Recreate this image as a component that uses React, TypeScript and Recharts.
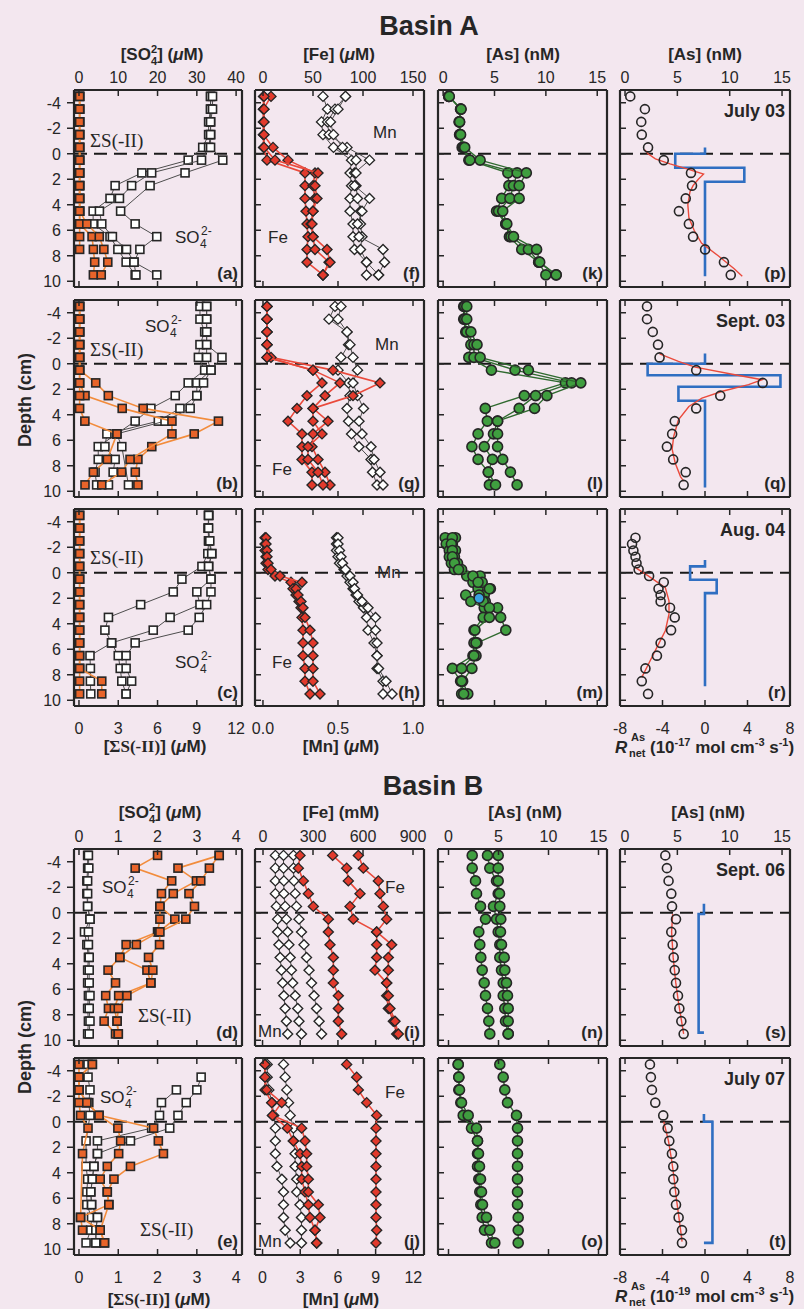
import React from 'react';
import { ScatterChart, Scatter, XAxis, YAxis, ReferenceLine } from 'recharts';

const FONT = '"Liberation Sans", Arial, Helvetica, sans-serif';
const SERIF = '"Liberation Serif", "DejaVu Serif", "Times New Roman", serif';
const BG = '#f3e7ef';
const FRAME = '#262626';
const TXT = '#262626';
const ORANGE_FILL = '#e8642a';
const ORANGE_LINE = '#f28c3c';
const RED_FILL = '#e23a2c';
const RED_LINE = '#ea4a3c';
const GREEN_FILL = '#3f9e3f';
const GREEN_LINE = '#2f6a2f';
const BLUE = '#2f6fc2';
const SKY = '#3aa3e3';
const GRAY_LINE = '#4d4d4d';

type V = number | null;

// ---------------- depth grids & tick values ----------------
const DEPTH: number[] = [-4.5, -3.5, -2.5, -1.5, -0.5, 0.5, 1.5, 2.5, 3.5, 4.5, 5.5, 6.5, 7.5, 8.5, 9.5];
const DEPTH_AUG04: number[] = [-2.75, -2.25, -1.75, -1.25, -0.75, -0.25, 0.25, 0.75, 1.25, 1.75, 2.25, 2.75, 3.5, 4.5, 5.5, 6.5, 7.5, 8.5, 9.5];
const DEPTH_TICKS = [-4, -2, 0, 2, 4, 6, 8, 10];
const TICKS_SO4_A = [0, 10, 20, 30, 40];
const TICKS_HS_A = [0, 3, 6, 9, 12];
const TICKS_FE_A = [0, 50, 100, 150];
const TICKS_MN_A = [0, 0.5, 1];
const TICKS_AS = [0, 5, 10, 15];
const TICKS_R = [-8, -4, 0, 4, 8];
const TICKS_S_B = [0, 1, 2, 3, 4];
const TICKS_FE_B = [0, 300, 600, 900];
const TICKS_MN_B = [0, 3, 6, 9, 12];

// ---------------- Basin A, July 03 ----------------
const SO4_A1: V[] = [33.5, 33.5, 33, 33, 31.5, 27.8, 16.0, 9.2, 7.9, 3.6, 3.6, 7.9, 9.9, 12.0, 14.3];
const SO4_A2: V[] = [33.5, 33.5, 33.5, 33.5, 33, 31.2, 18.5, 13.4, 10.3, 5.2, 5.8, 8.5, 12.1, 14.0, 14.5];
const SO4_A3: V[] = [34, 34, 33.5, 33.5, 33.5, 36.6, 27.0, 18.1, null, 10.6, 14.3, 19.8, 15.5, 14.0, 19.8];
const HS_A1: V[] = [0.05, 0.05, 0.05, 0.05, 0.05, 0.05, 0.05, 0.05, 0.05, 0.05, 0.05, 0.05, 0.05, null, null];
const HS_A2: V[] = [0.05, 0.05, 0.05, 0.05, 0.05, 0.05, 0.05, 0.05, 0.05, 0.05, 0.05, 1.0, 1.1, 1.2, 1.1];
const HS_A3: V[] = [0.05, 0.05, 0.05, 0.05, 0.05, 0.05, 0.05, 0.05, 0.05, 0.05, 0.6, 1.55, 1.9, 2.2, 1.7];
const FE_F1: V[] = [0.5, 0.5, 0.5, 0.5, 0.5, 4, 42, 42, 42, 43, 44, 45, 44, 44, 60];
const FE_F2: V[] = [8, 0.5, 0.5, 0.5, 10, 25, 52, 50, 52, 50, 48, 50, 52, 66, 60];
const FE_F3: V[] = [1, 1, 1, 1, 1, 12, 55, 52, 54, 50, 49, 50, 64, 67, 60];
const MN_F1: V[] = [0.40, 0.43, 0.39, 0.40, 0.47, 0.59, 0.58, 0.59, 0.58, 0.58, 0.60, 0.60, 0.61, 0.69, 0.69];
const MN_F2: V[] = [0.55, 0.48, 0.43, 0.44, 0.56, 0.71, 0.61, 0.62, 0.63, 0.65, 0.65, 0.66, 0.65, 0.69, 0.77];
const MN_F3: V[] = [0.55, 0.50, 0.45, 0.47, 0.53, 0.62, 0.62, 0.61, 0.71, 0.66, 0.63, 0.64, 0.80, 0.81, 0.77];
const AS_K1: V[] = [0.55, 1.7, 1.55, 1.6, 1.85, 2.5, 6.3, 6.4, 5.7, 5.2, 6.1, 6.45, 7.65, 9.3, 10.0];
const AS_K2: V[] = [0.55, 1.7, 1.6, 1.65, 2.0, 2.6, 7.2, 6.85, 6.5, 5.4, 6.1, 6.6, 8.3, 9.3, 11.0];
const AS_K3: V[] = [0.6, 1.75, 1.6, 1.7, 2.1, 3.6, 8.1, 7.4, 7.4, 5.8, 6.2, 6.85, 9.1, 9.4, 11.0];
const AS_P: V[] = [0.5, 1.9, 1.55, 1.6, 2.2, 3.7, 6.3, 6.4, 5.8, 5.15, 6.1, 6.5, 7.65, 9.45, 10.1];
const FIT_P_D = [-0.3, 0, 0.4, 0.8, 1.2, 1.6, 2.0, 2.5, 3, 4, 5, 6, 7, 8, 9, 9.6];
const FIT_P_V: V[] = [1.9, 2.2, 2.9, 4.3, 6.0, 7.5, 7.0, 6.5, 6.2, 6.0, 6.1, 6.6, 7.3, 8.9, 10.4, 11.2];
const STEP_P_D = [-0.5, 0, 0, 1.1, 1.1, 2.2, 2.2, 9.6];
const STEP_P_R: V[] = [0, 0, -2.8, -2.8, 3.7, 3.7, 0, 0];

// ---------------- Basin A, Sept. 03 ----------------
const SO4_B1: V[] = [30.8, 30.8, 32, 30.8, 30.4, 32, 27.8, 24.5, 18.3, 14.3, 9.6, 4.9, 4.9, 4.1, 4.5];
const SO4_B2: V[] = [32.5, 32.5, 32.5, 32.5, 32.5, 33.6, 30, 30, 25.7, 20.2, 7.1, 6.6, 9.2, 8.7, 7.5];
const SO4_B3: V[] = [32.5, 32.5, 32.5, 32.5, 36.4, 33.6, 31.7, 30, 28.3, 21.9, 9.6, 10.9, null, null, 12.6];
const HS_B1: V[] = [0.05, 0.05, 0.05, 0.05, 0.05, 0.05, 1.28, 2.24, 4.9, 10.65, 8.8, 5.56, 4.5, 4.3, 4.5];
const HS_B2: V[] = [0.05, 0.05, 0.05, 0.05, 0.05, 0.05, 0.05, 0.46, 3.3, 7.1, 7.1, null, 3.9, 3.26, 1.74];
const HS_B3: V[] = [0.05, 0.05, 0.05, 0.05, 0.05, 0.05, 0.05, 0.05, 0.05, 0.45, 2.9, null, 2.17, 1.1, 0.46];
const FE_G1: V[] = [4, 4, 4, 4, 4, 50, 59, 44, 34, 25, 39, 39, 39, 49, 49];
const FE_G2: V[] = [4, 4, 4, 4, 8, 70, 117, 90, 50, 65, 50, 49, 55, 62, 67];
const FE_G3: V[] = [4, 4, 4, 4, 4, 50, 77, 62, 50, 50, 59, 45, 45, 55, 60];
const MN_G1: V[] = [0.48, 0.44, 0.56, 0.57, 0.52, 0.50, 0.57, 0.58, 0.56, 0.57, 0.59, 0.64, 0.72, 0.73, 0.76];
const MN_G2: V[] = [0.52, 0.50, 0.56, 0.58, 0.60, 0.63, 0.60, 0.63, 0.67, 0.64, 0.66, 0.72, 0.74, 0.78, 0.80];
const AS_L1: V[] = [2.0, 2.0, 2.2, 2.7, 2.5, 4.7, 11.9, 7.9, 4.1, 4.3, 3.4, 2.8, 3.4, 4.4, 4.5];
const AS_L2: V[] = [2.1, 2.1, 2.3, 3.0, 3.0, 7.0, 12.5, 9.0, 7.4, 5.3, 4.9, 4.0, 4.8, 4.4, 5.1];
const AS_L3: V[] = [2.3, 2.3, 2.7, 3.3, 3.6, 8.3, 13.4, 10.1, 8.9, 5.3, 5.3, 5.3, 5.8, 6.55, 7.2];
const AS_Q: V[] = [2.1, 2.1, 2.65, 3.15, 3.3, 6.8, 13.15, 9.1, 6.8, 4.75, 4.5, 4.0, 4.6, 5.8, 5.6];
const FIT_Q_D = [-0.78, -0.18, 0.26, 0.86, 1.25, 1.64, 2.16, 2.7, 3.35, 4.4, 5.7, 6.7, 7.8, 8.85, 9.2];
const FIT_Q_V: V[] = [3.3, 5.1, 6.7, 10.5, 13.1, 11.8, 9.3, 7.35, 6.1, 5.1, 4.65, 4.5, 4.8, 5.3, 5.6];
const STEP_Q_D = [-0.8, 0, 0, 0.9, 0.9, 1.8, 1.8, 2.9, 2.9, 9.7];
const STEP_Q_R: V[] = [0, 0, -5.4, -5.4, 7.1, 7.1, -2.5, -2.5, 0, 0];

// ---------------- Basin A, Aug. 04 ----------------
const SO4_C1: V[] = [33, 32.9, 33, 32.8, 31.3, 26.2, 24, 15.7, 7.5, 6.6, 8.3, 2.8, 2.9, 2.9, 3.0];
const SO4_C2: V[] = [33, 32.9, 33, 33.8, 33, 33.6, 30, 30.8, 23.2, 18.9, 8.3, 10.0, 10.5, 10.9, 12.0];
const SO4_C3: V[] = [33, 33, 33.3, 33.8, 33, 33.6, 33.6, 32.5, 30.6, 27.8, 14.3, 12.0, 12.0, 13.4, 12.0];
const HS_C1: V[] = [0.05, 0.05, 0.05, 0.05, 0.05, 0.05, 0.05, 0.05, 0.05, 0.05, 0.05, 0.05, 0.05, 0.05, 0.05];
const HS_C2: V[] = [0.05, 0.05, 0.05, 0.05, 0.05, 0.05, 0.05, 0.05, 0.05, 0.05, 0.05, 0.05, 0.05, 1.74, 1.74];
const FE_H1: V[] = [2, 2, 2, 3, 3, 5, 12, 28, 30, 33, 36, 38, 39, 40, 40, 40, 42, 42, 47];
const FE_H2: V[] = [3, 3, 4, 4, 5, 8, 17, 39, 33, 35, 38, 40, 42, 47, 50, 50, 50, 50, 57];
const MN_H1: V[] = [0.49, 0.49, 0.49, 0.50, 0.51, 0.54, 0.56, 0.58, 0.60, 0.62, 0.64, 0.67, 0.69, 0.70, 0.74, 0.76, 0.76, 0.80, 0.80];
const MN_H2: V[] = [0.50, 0.50, 0.51, 0.52, 0.53, 0.55, 0.58, 0.60, 0.61, 0.63, 0.66, 0.70, 0.75, 0.75, 0.76, 0.76, 0.77, 0.82, 0.86];
const AS_M1: V[] = [0.2, 0.3, 0.6, 0.6, 0.8, 1.1, 2.3, 2.9, 3.4, 2.2, 2.7, 4.0, 3.9, 3.0, 3.0, 2.9, 0.9, 1.7, 1.8];
const AS_M2: V[] = [1.2, 0.9, 1.2, 1.1, 1.4, 1.8, 3.6, 3.8, 4.6, 4.0, 4.1, 5.3, 5.6, 6.1, 3.3, 3.2, 2.8, 1.9, 2.4];
const AS_M3: V[] = [0.9, 0.8, 0.9, 0.9, 1.1, 1.5, 2.9, 3.4, 4.5, 3.5, 3.9, 4.5, 4.5, 3.1, 3.2, 3.0, 1.8, 1.8, 2.0];
const AS_M_SKY_D = [2.0];
const AS_M_SKY_V: V[] = [3.5];
const AS_R: V[] = [1.0, 0.67, 0.8, 1.0, 1.1, 1.3, 2.3, 3.7, 3.2, 3.4, 3.4, 4.3, 4.75, 4.4, 3.4, 3.05, 1.95, 1.6, 2.2];
const FIT_R_D = [-0.4, 0.26, 1.17, 2.2, 3.25, 4.55, 5.6, 6.9, 8.2];
const FIT_R_V: V[] = [1.0, 2.25, 3.85, 4.2, 4.2, 3.85, 3.2, 2.4, 1.6];
const STEP_R_D = [-1.0, -0.5, -0.5, 0.55, 0.55, 1.6, 1.6, 8.9];
const STEP_R_R: V[] = [0, 0, -1.4, -1.4, 1.1, 1.1, 0, 0];

// ---------------- Basin B, Sept. 06 ----------------
const OPEN_D1: V[] = [0.22, 0.22, 0.2, 0.2, 0.22, 0.28, 0.14, 0.2, 0.24, 0.22, 0.22, 0.24, 0.22, 0.24, 0.22];
const OPEN_D2: V[] = [0.24, 0.25, 0.22, 0.22, 0.22, 0.28, 0.24, 0.24, 0.26, 0.26, 0.26, 0.28, 0.26, 0.28, 0.26];
const OR_D1: V[] = [2.0, 1.43, 2.36, 2.1, 2.06, 2.06, 2.0, 1.2, 1.04, 0.74, 0.93, 0.68, 0.75, 0.64, 0.93];
const OR_D2: V[] = [3.57, 2.52, 2.99, 2.4, 2.06, 2.44, 2.03, 1.46, 1.04, 1.73, 1.83, 1.01, 0.9, 0.97, 1.0];
const OR_D3: V[] = [3.57, 3.32, 3.1, 2.8, 2.94, 2.72, 2.06, 2.05, 1.77, 1.88, 1.83, 1.22, 1.0, 0.97, 1.0];
const FE_I1: V[] = [222, 212, 242, 272, 302, 392, 392, 402, 422, 422, 422, 452, 452, 452, 472];
const FE_I2: V[] = [418, 502, 512, 582, 522, 542, 682, 682, 682, 672, 742, 742, 752, 782, 802];
const FE_I3: V[] = [572, 602, 692, 702, 722, 742, 682, 772, 752, 752, 742, 752, 762, 792, 812];
const MN_I1: V[] = [1.02, 1.02, 1.02, 1.02, 1.1, 1.2, 1.2, 1.3, 1.4, 1.5, 1.6, 1.7, 1.8, 1.9, 2.0];
const MN_I2: V[] = [1.67, 1.67, 1.7, 1.7, 1.8, 1.9, 2.0, 2.1, 2.2, 2.3, 2.4, 2.6, 2.8, 2.9, 3.1];
const MN_I3: V[] = [2.46, 2.46, 2.5, 2.6, 2.7, 2.9, 3.1, 3.3, 3.5, 3.7, 3.9, 4.1, 4.3, 4.5, 4.7];
const AS_N1: V[] = [2.37, 2.37, 2.7, 2.8, 3.2, 3.7, 3.03, 3.13, 3.23, 3.37, 3.57, 3.7, 3.9, 4.03, 4.13];
const AS_N2: V[] = [3.9, 4.13, 4.8, 4.97, 4.5, 4.8, 4.97, 5.13, 5.13, 5.3, 5.47, 5.47, 5.63, 5.7, 5.97];
const AS_N3: V[] = [4.97, 4.97, 4.97, 5.1, 5.13, 5.23, 5.2, 5.3, 5.57, 5.63, 5.8, 5.9, 5.97, 5.97, 5.97];
const AS_S: V[] = [3.85, 4.0, 4.16, 4.42, 4.49, 4.87, 4.42, 4.55, 4.65, 4.75, 4.87, 5.06, 5.19, 5.38, 5.6];
const FIT_S_D = [0.1, 1.5, 3.5, 5.5, 7.0, 8.5, 9.5];
const FIT_S_V: V[] = [4.55, 4.45, 4.6, 4.85, 5.1, 5.4, 5.6];
const STEP_S_D = [-0.7, 0.1, 0.1, 9.4, 9.4];
const STEP_S_R: V[] = [-0.1, -0.1, -0.6, -0.6, -0.1];

// ---------------- Basin B, July 07 ----------------
const OPEN_E1: V[] = [0.23, 0.23, 0.28, 0.25, 0.28, null, 0.18, null, 0.18, 0.22, 0.2, 0.2, 0.32, 0.30, 0.18];
const OPEN_E2: V[] = [null, 3.11, 3.0, 2.73, 2.52, 2.31, 1.31, 0.47, 0.38, 0.34, 0.30, 0.32, 0.47, 0.43, 0.43];
const OPEN_E3: V[] = [null, null, 2.48, 2.1, 2.05, 1.85, 0.47, 0.47, 0.38, 0.34, 0.3, 0.32, 0.47, 0.43, 0.43];
const OR_E1: V[] = [0.0, 0.0, 0.0, 0.0, 0.04, 0.23, null, 0.09, null, null, null, null, 0.04, 0.09, null];
const OR_E2: V[] = [0.34, 0.0, 0.0, 0.2, 0.51, 0.99, 1.06, 1.01, 0.72, 0.54, 0.72, 0.76, 0.04, 0.54, 0.65];
const OR_E3: V[] = [0.34, 0.0, 0.0, 0.2, 0.51, 1.9, 2.02, 2.15, 1.31, 0.89, 0.72, 0.76, null, 0.54, 0.65];
const FE_J1: V[] = [12, 12, 12, 52, 57, 146, 182, 222, 232, 232, 252, 272, 282, 312, 322];
const FE_J2: V[] = [12, 12, 22, 112, 57, 232, 252, 262, 262, 272, 272, 332, 342, 312, 322];
const FE_J3: V[] = [502, 562, 572, 622, 682, 678, 678, 678, 678, 678, 678, 678, 678, 682, 678];
const MN_J1: V[] = [0.37, 0.37, 0.5, 0.76, 0.89, 1.02, 1.02, 1.02, 1.15, 1.54, 1.67, 1.67, 1.67, 1.8, 2.2];
const MN_J2: V[] = [1.67, 1.8, 1.93, 2.07, 2.2, 2.46, 2.46, 2.59, 2.59, 2.72, 2.72, 2.98, 3.1, 3.1, 3.1];
const AS_O1: V[] = [0.97, 1.03, 1.03, 1.23, 1.47, 2.3, 2.9, 2.9, 2.9, 3.03, 3.13, 3.23, 3.37, 3.6, 4.3];
const AS_O2: V[] = [0.97, 1.03, 1.1, 1.3, 1.97, 2.8, 2.9, 3.0, 3.1, 3.2, 3.3, 3.4, 3.8, 4.13, 4.63];
const AS_O3: V[] = [5.13, 5.47, 5.63, 5.9, 6.8, 6.9, 6.9, 6.9, 6.9, 6.9, 6.9, 6.9, 6.97, 6.97, 6.97];
const AS_T: V[] = [2.38, 2.47, 2.57, 2.89, 3.65, 4.07, 4.23, 4.48, 4.61, 4.61, 4.71, 4.87, 5.12, 5.44, 5.44];
const FIT_T_D = [0.0, 1.5, 3.0, 4.5, 6.0, 7.5, 9.4];
const FIT_T_V: V[] = [3.7, 4.15, 4.45, 4.7, 4.9, 5.15, 5.45];
const STEP_T_D = [-0.6, 0, 0, 9.5, 9.5];
const STEP_T_R: V[] = [-0.1, -0.1, 0.7, 0.7, -0.1];

// ---------------- helpers ----------------
type Pt = { d: number; v: number };
const zip = (ds: number[], vs: V[]): Pt[] => {
  const out: Pt[] = [];
  ds.forEach((d, i) => {
    const v = vs[i];
    if (v !== null && v !== undefined) out.push({ d, v });
  });
  return out;
};

type Kind = 'sqOpen' | 'sqOrange' | 'diaOpen' | 'diaRed' | 'circGreen' | 'circOpen' | 'circSky' | 'fit' | 'step';
type Ser = { kind: Kind; axis: 't' | 'b'; pts: Pt[] };
const S = (kind: Kind, axis: 't' | 'b', ds: number[], vs: V[]): Ser => ({ kind, axis, pts: zip(ds, vs) });

const sq = (fill: string) => (p: any) => (
  <rect x={p.cx - 4} y={p.cy - 4} width={8} height={8} fill={fill} stroke={FRAME} strokeWidth={1.6} />
);
const dia = (fill: string) => (p: any) => (
  <polygon
    points={`${p.cx},${p.cy - 5} ${p.cx + 5},${p.cy} ${p.cx},${p.cy + 5} ${p.cx - 5},${p.cy}`}
    fill={fill}
    stroke={FRAME}
    strokeWidth={1.4}
  />
);
const circ = (fill: string, r: number) => (p: any) => (
  <circle cx={p.cx} cy={p.cy} r={r} fill={fill} stroke={FRAME} strokeWidth={1.6} />
);
const none = () => <g />;

const STYLE: Record<Kind, { shape: any; line: string | null; lw: number }> = {
  sqOpen: { shape: sq('#ffffff'), line: GRAY_LINE, lw: 1 },
  sqOrange: { shape: sq(ORANGE_FILL), line: ORANGE_LINE, lw: 1.6 },
  diaOpen: { shape: dia('#ffffff'), line: GRAY_LINE, lw: 1 },
  diaRed: { shape: dia(RED_FILL), line: RED_LINE, lw: 1.6 },
  circGreen: { shape: circ(GREEN_FILL, 5), line: GREEN_LINE, lw: 1.4 },
  circOpen: { shape: circ('none', 4.5), line: null, lw: 0 },
  circSky: { shape: circ(SKY, 5), line: null, lw: 0 },
  fit: { shape: none, line: RED_LINE, lw: 1.4 },
  step: { shape: none, line: BLUE, lw: 2.6 },
};

type AxisCfg = { dom: [number, number]; ticks: number[]; fmt?: (v: number) => string };
const fmtDefault = (v: number) => String(v);
const fmt1 = (v: number) => v.toFixed(1);

const AXES: Record<'A' | 'B', { t: AxisCfg; b: AxisCfg }[]> = {
  A: [
    { t: { dom: [-1.27, 41.5], ticks: TICKS_SO4_A }, b: { dom: [-0.38, 12.45], ticks: TICKS_HS_A } },
    { t: { dom: [-8, 161], ticks: TICKS_FE_A }, b: { dom: [-0.053, 1.073], ticks: TICKS_MN_A, fmt: fmt1 } },
    { t: { dom: [-0.5, 15.95], ticks: TICKS_AS }, b: { dom: [-0.5, 15.95], ticks: TICKS_AS } },
    { t: { dom: [-0.48, 15.76], ticks: TICKS_AS }, b: { dom: [-8, 8], ticks: TICKS_R } },
  ],
  B: [
    { t: { dom: [-0.127, 4.15], ticks: TICKS_S_B }, b: { dom: [-0.127, 4.15], ticks: TICKS_S_B } },
    { t: { dom: [-48, 966], ticks: TICKS_FE_B }, b: { dom: [-0.6, 12.85], ticks: TICKS_MN_B } },
    { t: { dom: [-1.05, 15.85], ticks: TICKS_AS }, b: { dom: [-1.05, 15.85], ticks: TICKS_AS } },
    { t: { dom: [-0.48, 15.76], ticks: TICKS_AS }, b: { dom: [-8, 8], ticks: TICKS_R } },
  ],
};

const COL_LEFT = [74, 255, 438, 620];
const COL_W = [168, 169, 169, 170];
const ROW_TOP = [90, 300, 509, 849, 1058];
const ROW_H = 197;
const Y_DOMAIN: [number, number] = [-5, 10.45];

type PanelDef = { row: number; col: number; basin: 'A' | 'B'; letter: string; date?: string; series: Ser[] };

const PANELS: PanelDef[] = [
  { row: 0, col: 0, basin: 'A', letter: '(a)', series: [
    S('sqOpen', 't', DEPTH, SO4_A1), S('sqOpen', 't', DEPTH, SO4_A2), S('sqOpen', 't', DEPTH, SO4_A3),
    S('sqOrange', 'b', DEPTH, HS_A1), S('sqOrange', 'b', DEPTH, HS_A2), S('sqOrange', 'b', DEPTH, HS_A3),
  ] },
  { row: 0, col: 1, basin: 'A', letter: '(f)', series: [
    S('diaOpen', 'b', DEPTH, MN_F1), S('diaOpen', 'b', DEPTH, MN_F2), S('diaOpen', 'b', DEPTH, MN_F3),
    S('diaRed', 't', DEPTH, FE_F1), S('diaRed', 't', DEPTH, FE_F2), S('diaRed', 't', DEPTH, FE_F3),
  ] },
  { row: 0, col: 2, basin: 'A', letter: '(k)', series: [
    S('circGreen', 't', DEPTH, AS_K1), S('circGreen', 't', DEPTH, AS_K2), S('circGreen', 't', DEPTH, AS_K3),
  ] },
  { row: 0, col: 3, basin: 'A', letter: '(p)', date: 'July 03', series: [
    S('step', 'b', STEP_P_D, STEP_P_R), S('fit', 't', FIT_P_D, FIT_P_V), S('circOpen', 't', DEPTH, AS_P),
  ] },
  { row: 1, col: 0, basin: 'A', letter: '(b)', series: [
    S('sqOpen', 't', DEPTH, SO4_B1), S('sqOpen', 't', DEPTH, SO4_B2), S('sqOpen', 't', DEPTH, SO4_B3),
    S('sqOrange', 'b', DEPTH, HS_B1), S('sqOrange', 'b', DEPTH, HS_B2), S('sqOrange', 'b', DEPTH, HS_B3),
  ] },
  { row: 1, col: 1, basin: 'A', letter: '(g)', series: [
    S('diaOpen', 'b', DEPTH, MN_G1), S('diaOpen', 'b', DEPTH, MN_G2),
    S('diaRed', 't', DEPTH, FE_G1), S('diaRed', 't', DEPTH, FE_G2), S('diaRed', 't', DEPTH, FE_G3),
  ] },
  { row: 1, col: 2, basin: 'A', letter: '(l)', series: [
    S('circGreen', 't', DEPTH, AS_L1), S('circGreen', 't', DEPTH, AS_L2), S('circGreen', 't', DEPTH, AS_L3),
  ] },
  { row: 1, col: 3, basin: 'A', letter: '(q)', date: 'Sept. 03', series: [
    S('step', 'b', STEP_Q_D, STEP_Q_R), S('fit', 't', FIT_Q_D, FIT_Q_V), S('circOpen', 't', DEPTH, AS_Q),
  ] },
  { row: 2, col: 0, basin: 'A', letter: '(c)', series: [
    S('sqOpen', 't', DEPTH, SO4_C1), S('sqOpen', 't', DEPTH, SO4_C2), S('sqOpen', 't', DEPTH, SO4_C3),
    S('sqOrange', 'b', DEPTH, HS_C1), S('sqOrange', 'b', DEPTH, HS_C2),
  ] },
  { row: 2, col: 1, basin: 'A', letter: '(h)', series: [
    S('diaOpen', 'b', DEPTH_AUG04, MN_H1), S('diaOpen', 'b', DEPTH_AUG04, MN_H2),
    S('diaRed', 't', DEPTH_AUG04, FE_H1), S('diaRed', 't', DEPTH_AUG04, FE_H2),
  ] },
  { row: 2, col: 2, basin: 'A', letter: '(m)', series: [
    S('circGreen', 't', DEPTH_AUG04, AS_M1), S('circGreen', 't', DEPTH_AUG04, AS_M2), S('circGreen', 't', DEPTH_AUG04, AS_M3),
    S('circSky', 't', AS_M_SKY_D, AS_M_SKY_V),
  ] },
  { row: 2, col: 3, basin: 'A', letter: '(r)', date: 'Aug. 04', series: [
    S('step', 'b', STEP_R_D, STEP_R_R), S('fit', 't', FIT_R_D, FIT_R_V), S('circOpen', 't', DEPTH_AUG04, AS_R),
  ] },
  { row: 3, col: 0, basin: 'B', letter: '(d)', series: [
    S('sqOpen', 't', DEPTH, OPEN_D1), S('sqOpen', 't', DEPTH, OPEN_D2),
    S('sqOrange', 'b', DEPTH, OR_D1), S('sqOrange', 'b', DEPTH, OR_D2), S('sqOrange', 'b', DEPTH, OR_D3),
  ] },
  { row: 3, col: 1, basin: 'B', letter: '(i)', series: [
    S('diaOpen', 'b', DEPTH, MN_I1), S('diaOpen', 'b', DEPTH, MN_I2), S('diaOpen', 'b', DEPTH, MN_I3),
    S('diaRed', 't', DEPTH, FE_I1), S('diaRed', 't', DEPTH, FE_I2), S('diaRed', 't', DEPTH, FE_I3),
  ] },
  { row: 3, col: 2, basin: 'B', letter: '(n)', series: [
    S('circGreen', 't', DEPTH, AS_N1), S('circGreen', 't', DEPTH, AS_N2), S('circGreen', 't', DEPTH, AS_N3),
  ] },
  { row: 3, col: 3, basin: 'B', letter: '(s)', date: 'Sept. 06', series: [
    S('step', 'b', STEP_S_D, STEP_S_R), S('fit', 't', FIT_S_D, FIT_S_V), S('circOpen', 't', DEPTH, AS_S),
  ] },
  { row: 4, col: 0, basin: 'B', letter: '(e)', series: [
    S('sqOpen', 't', DEPTH, OPEN_E1), S('sqOpen', 't', DEPTH, OPEN_E2), S('sqOpen', 't', DEPTH, OPEN_E3),
    S('sqOrange', 'b', DEPTH, OR_E1), S('sqOrange', 'b', DEPTH, OR_E2), S('sqOrange', 'b', DEPTH, OR_E3),
  ] },
  { row: 4, col: 1, basin: 'B', letter: '(j)', series: [
    S('diaOpen', 'b', DEPTH, MN_J1), S('diaOpen', 'b', DEPTH, MN_J2),
    S('diaRed', 't', DEPTH, FE_J1), S('diaRed', 't', DEPTH, FE_J2), S('diaRed', 't', DEPTH, FE_J3),
  ] },
  { row: 4, col: 2, basin: 'B', letter: '(o)', series: [
    S('circGreen', 't', DEPTH, AS_O1), S('circGreen', 't', DEPTH, AS_O2), S('circGreen', 't', DEPTH, AS_O3),
  ] },
  { row: 4, col: 3, basin: 'B', letter: '(t)', date: 'July 07', series: [
    S('step', 'b', STEP_T_D, STEP_T_R), S('fit', 't', FIT_T_D, FIT_T_V), S('circOpen', 't', DEPTH, AS_T),
  ] },
];

// ---------------- ticks ----------------
const TL = 6;
function makeTick(side: 'top' | 'bottom' | 'left', show: boolean, fmt: (v: number) => string, outward: boolean) {
  return (props: any) => {
    const x = Number(props.x);
    const y = Number(props.y);
    const v = props.payload ? props.payload.value : 0;
    const lbl = { fontSize: 16, fontFamily: FONT, fill: TXT } as any;
    if (side === 'top') {
      return (
        <g>
          <line x1={x} x2={x} y1={y} y2={y + TL} stroke={FRAME} strokeWidth={1.5} />
          {show ? <text x={x} y={y - 7} textAnchor="middle" {...lbl}>{fmt(v)}</text> : null}
        </g>
      );
    }
    if (side === 'bottom') {
      return (
        <g>
          <line x1={x} x2={x} y1={y} y2={y - TL} stroke={FRAME} strokeWidth={1.5} />
          {show ? <text x={x} y={y + 28} textAnchor="middle" {...lbl}>{fmt(v)}</text> : null}
        </g>
      );
    }
    return (
      <g>
        <line x1={outward ? x - 7 : x} x2={outward ? x : x + TL} y1={y} y2={y} stroke={FRAME} strokeWidth={1.5} />
        {show ? <text x={x - 13} y={y + 6} textAnchor="end" {...lbl}>{fmt(v)}</text> : null}
      </g>
    );
  };
}

const AXLINE = { stroke: FRAME, strokeWidth: 2.2 };
const PL = 72, PR = 6, PT = 46, PB = 36;

function Panel({ p }: { p: PanelDef }) {
  const left = COL_LEFT[p.col];
  const top = ROW_TOP[p.row];
  const w = COL_W[p.col];
  const h = ROW_H;
  const ax = AXES[p.basin][p.col];
  const showTop = p.row === 0 || p.row === 3;
  const showBottom = (p.row === 2 || p.row === 4) && p.col !== 2;
  const showY = p.col === 0;
  const W = PL + w + PR;
  const H = PT + h + PB;
  return (
    <div style={{ position: 'absolute', left: left - PL, top: top - PT, width: W, height: H }}>
      <ScatterChart width={W} height={H} margin={{ top: 0, right: 0, bottom: 0, left: 0 }}>
        <XAxis
          xAxisId="t" orientation="top" type="number" dataKey="v" domain={ax.t.dom} ticks={ax.t.ticks}
          interval={0} height={PT} tickSize={0} tickMargin={0} tickLine={false} axisLine={AXLINE}
          tick={makeTick('top', showTop, ax.t.fmt || fmtDefault, false)} allowDataOverflow
        />
        <XAxis
          xAxisId="b" orientation="bottom" type="number" dataKey="v" domain={ax.b.dom} ticks={ax.b.ticks}
          interval={0} height={PB} tickSize={0} tickMargin={0} tickLine={false} axisLine={AXLINE}
          tick={makeTick('bottom', showBottom, ax.b.fmt || fmtDefault, false)} allowDataOverflow
        />
        <YAxis
          yAxisId="l" orientation="left" type="number" dataKey="d" domain={Y_DOMAIN} reversed ticks={DEPTH_TICKS}
          interval={0} width={PL} tickSize={0} tickMargin={0} tickLine={false} axisLine={AXLINE}
          tick={makeTick('left', showY, fmtDefault, showY)} allowDataOverflow
        />
        <YAxis
          yAxisId="r" orientation="right" type="number" dataKey="d" domain={Y_DOMAIN} reversed
          width={PR} tick={false} tickLine={false} axisLine={AXLINE} allowDataOverflow
        />
        <ReferenceLine xAxisId="t" yAxisId="l" y={0} stroke="#1a1a1a" strokeWidth={2} strokeDasharray="13 7" />
        {p.series.map((s, i) => {
          const st = STYLE[s.kind];
          return (
            <Scatter
              key={i}
              xAxisId={s.axis}
              yAxisId="l"
              data={s.pts}
              isAnimationActive={false}
              shape={st.shape}
              line={st.line ? { stroke: st.line, strokeWidth: st.lw } : false}
              lineType="joint"
            />
          );
        })}
      </ScatterChart>
    </div>
  );
}

// ---------------- text overlay ----------------
function SO4Label({ x, y }: { x: number; y: number }) {
  return (
    <g fontFamily={FONT} fill={TXT}>
      <text x={x} y={y} fontSize={17}>SO</text>
      <text x={x + 25} y={y + 5} fontSize={12}>4</text>
      <text x={x + 26} y={y - 8} fontSize={12}>2-</text>
    </g>
  );
}
function HSLabel({ x, y }: { x: number; y: number }) {
  return <text x={x} y={y} fontSize={19} fontFamily={SERIF} fill={TXT}>ΣS(-II)</text>;
}
function Plain({ x, y, t }: { x: number; y: number; t: string }) {
  return <text x={x} y={y} fontSize={17} fontFamily={FONT} fill={TXT}>{t}</text>;
}
function TopTitleSO4({ cx, y }: { cx: number; y: number }) {
  return (
    <text x={cx} y={y} textAnchor="middle" fontSize={17} fontWeight="bold" fontFamily={FONT} fill={TXT}>
      [SO<tspan dy={5} fontSize={11}>4</tspan><tspan dy={-12} dx={-6} fontSize={11}>2</tspan>
      <tspan dy={7}>] (</tspan><tspan fontStyle="italic">μ</tspan>M)
    </text>
  );
}
function Title({ cx, y, pre, unit }: { cx: number; y: number; pre: string; unit: string }) {
  return (
    <text x={cx} y={y} textAnchor="middle" fontSize={17} fontWeight="bold" fontFamily={FONT} fill={TXT}>
      {pre} ({unit === 'uM' ? <tspan fontStyle="italic">μ</tspan> : null}{unit === 'uM' ? 'M' : unit})
    </text>
  );
}
function HSTitle({ cx, y }: { cx: number; y: number }) {
  return (
    <text x={cx} y={y} textAnchor="middle" fontSize={17} fontWeight="bold" fontFamily={FONT} fill={TXT}>
      [<tspan fontFamily={SERIF}>ΣS(-II)</tspan>] (<tspan fontStyle="italic">μ</tspan>M)
    </text>
  );
}
function RTitle({ x, y, exp }: { x: number; y: number; exp: string }) {
  return (
    <g fontFamily={FONT} fontWeight="bold" fill={TXT}>
      <text x={x} y={y} fontSize={17} fontStyle="italic">R</text>
      <text x={x + 16} y={y - 12} fontSize={11}>As</text>
      <text x={x + 14} y={y + 4} fontSize={11}>net</text>
      <text x={x + 35} y={y} fontSize={17}>
        (10<tspan dy={-7} fontSize={11}>{exp}</tspan>
        <tspan dy={7}> mol cm</tspan><tspan dy={-7} fontSize={11}>-3</tspan>
        <tspan dy={7}> s</tspan><tspan dy={-7} fontSize={11}>-1</tspan><tspan dy={7}>)</tspan>
      </text>
    </g>
  );
}

function Overlay() {
  return (
    <svg width={804} height={1309} style={{ position: 'absolute', left: 0, top: 0, pointerEvents: 'none' }}>
      <text x={429} y={35} textAnchor="middle" fontSize={27} fontWeight="bold" fontFamily={FONT} fill={TXT}>Basin A</text>
      <text x={433} y={795} textAnchor="middle" fontSize={27} fontWeight="bold" fontFamily={FONT} fill={TXT}>Basin B</text>

      <TopTitleSO4 cx={162} y={60} />
      <Title cx={339} y={60} pre="[Fe]" unit="uM" />
      <Title cx={523} y={60} pre="[As]" unit="nM" />
      <Title cx={705} y={60} pre="[As]" unit="nM" />
      <TopTitleSO4 cx={160} y={818} />
      <Title cx={341} y={818} pre="[Fe]" unit="mM" />
      <Title cx={525} y={818} pre="[As]" unit="nM" />
      <Title cx={708} y={818} pre="[As]" unit="nM" />

      <HSTitle cx={155} y={752} />
      <Title cx={341} y={752} pre="[Mn]" unit="uM" />
      <RTitle x={615} y={753} exp="-17" />
      <HSTitle cx={159} y={1305} />
      <Title cx={341} y={1305} pre="[Mn]" unit="uM" />
      <RTitle x={615} y={1302} exp="-19" />

      <text transform="rotate(-90 31 400)" x={31} y={400} textAnchor="middle" fontSize={18} fontWeight="bold" fontFamily={FONT} fill={TXT}>Depth (cm)</text>
      <text transform="rotate(-90 31 1047)" x={31} y={1047} textAnchor="middle" fontSize={18} fontWeight="bold" fontFamily={FONT} fill={TXT}>Depth (cm)</text>

      <HSLabel x={90} y={147} />
      <SO4Label x={175} y={243} />
      <Plain x={373} y={138} t="Mn" />
      <Plain x={268} y={243} t="Fe" />
      <SO4Label x={145} y={332} />
      <HSLabel x={90} y={356} />
      <Plain x={375} y={350} t="Mn" />
      <Plain x={272} y={475} t="Fe" />
      <HSLabel x={90} y={564} />
      <SO4Label x={175} y={668} />
      <Plain x={377} y={578} t="Mn" />
      <Plain x={272} y={668} t="Fe" />
      <SO4Label x={102} y={893} />
      <HSLabel x={138} y={1022} />
      <Plain x={385} y={893} t="Fe" />
      <Plain x={258} y={1037} t="Mn" />
      <SO4Label x={100} y={1103} />
      <HSLabel x={140} y={1236} />
      <Plain x={385} y={1098} t="Fe" />
      <Plain x={258} y={1247} t="Mn" />

      {PANELS.map((p, i) => {
        const right = COL_LEFT[p.col] + COL_W[p.col];
        const top = ROW_TOP[p.row];
        return (
          <g key={i} fontFamily={FONT} fontWeight="bold" fill={TXT}>
            <text x={right - 4} y={top + ROW_H - 8} textAnchor="end" fontSize={17}>{p.letter}</text>
            {p.date ? <text x={right - 5} y={top + 27} textAnchor="end" fontSize={18}>{p.date}</text> : null}
          </g>
        );
      })}
    </svg>
  );
}

export default function App() {
  return (
    <div style={{ position: 'absolute', left: 0, top: 0, width: 804, height: 1309, background: BG, overflow: 'hidden' }}>
      {PANELS.map((p, i) => (
        <Panel key={i} p={p} />
      ))}
      <Overlay />
    </div>
  );
}
